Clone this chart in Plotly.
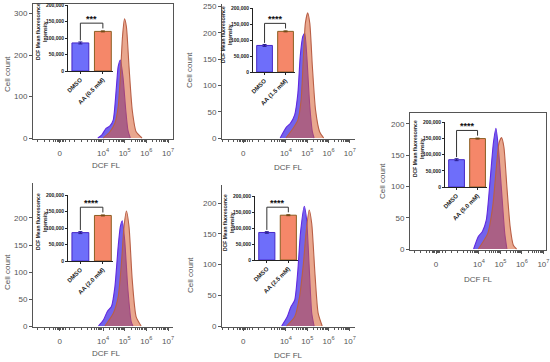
import math
import plotly.graph_objects as go

W, H = 550, 362

# ---------------- DATA ----------------
# Histogram x values are in display units of the DCF FL axis (2 = "0", 4 = 10^4, 5 = 10^5 ...)
p1_dmso_x = [3.76, 3.94, 4.14, 4.32, 4.47, 4.62, 4.70, 4.80, 4.92, 5.05, 5.15, 5.26]
p1_dmso_y = [0, 7, 23, 29, 43, 124, 172, 188, 148, 67, 19, 0]
p1_aa_x = [4.02, 4.32, 4.55, 4.70, 4.80, 4.90, 4.99, 5.08, 5.20, 5.35, 5.53, 5.80]
p1_aa_y = [0, 15, 36, 75, 148, 244, 287, 268, 172, 67, 15, 0]

p2_dmso_x = [3.73, 4.03, 4.21, 4.41, 4.56, 4.67, 4.79, 4.88, 4.98, 5.12, 5.24, 5.32]
p2_dmso_y = [0, 21, 28, 44, 85, 155, 193, 199, 155, 60, 12, 0]
p2_aa_x = [4.00, 4.33, 4.56, 4.71, 4.82, 4.91, 5.02, 5.12, 5.24, 5.39, 5.58, 5.77]
p2_aa_y = [0, 18, 34, 72, 155, 218, 238, 218, 136, 53, 12, 0]

p3_dmso_x = [3.75, 3.97, 4.16, 4.34, 4.52, 4.67, 4.79, 4.90, 5.05, 5.20, 5.30]
p3_dmso_y = [0, 20, 28, 46, 110, 169, 193, 163, 94, 25, 0]
p3_aa_x = [3.97, 4.41, 4.64, 4.81, 4.93, 5.05, 5.16, 5.30, 5.45, 5.60, 5.75]
p3_aa_y = [0, 25, 68, 131, 169, 178, 163, 99, 36, 6, 0]

p4_dmso_x = [3.79, 4.02, 4.20, 4.39, 4.55, 4.70, 4.80, 4.89, 5.00, 5.15, 5.30, 5.38]
p4_dmso_y = [0, 11, 27, 36, 73, 147, 184, 195, 159, 67, 8, 0]
p4_aa_x = [4.09, 4.47, 4.70, 4.85, 4.97, 5.08, 5.20, 5.35, 5.53, 5.76]
p4_aa_y = [0, 23, 54, 116, 184, 213, 184, 85, 17, 0]

p5_dmso_x = [3.80, 4.06, 4.23, 4.41, 4.56, 4.68, 4.86, 4.97, 5.09, 5.21, 5.32]
p5_dmso_y = [0, 15, 31, 42, 91, 151, 195, 173, 97, 21, 0]
p5_aa_x = [4.03, 4.41, 4.64, 4.82, 4.94, 5.09, 5.21, 5.36, 5.51, 5.70]
p5_aa_y = [0, 15, 48, 102, 151, 189, 167, 86, 21, 0]

# Inset bar data (DCF mean fluorescence intensity)
bar_categories = ["DMSO", "AA"]
aa_labels = ["AA (0.5 mM)", "AA (1.5 mM)", "AA (5.0 mM)", "AA (2.0 mM)", "AA (2.5 mM)"]
dmso_mfi = [85000, 83000, 84000, 86000, 86000]
aa_mfi = [120000, 127000, 149000, 138000, 140000]
dmso_err = [3000, 3000, 3000, 3000, 2500]
aa_err = [1500, 1500, 1500, 1500, 1500]
stars = ["***", "****", "****", "****", "****"]

# Cell count axis ticks per panel
y_ticks = [[0, 100, 200, 300], [0, 50, 100, 150, 200, 250], [0, 50, 100, 150, 200],
           [0, 50, 100, 150, 200], [0, 50, 100, 150, 200]]
x_tickvals = [2, 4, 5, 6, 7]
x_ticktext = ["0", "10<sup>4</sup>", "10<sup>5</sup>", "10<sup>6</sup>", "10<sup>7</sup>"]
mfi_ticks = [0, 50000, 100000, 150000, 200000]
mfi_ticktext = ["0", "50,000", "100,000", "150,000", "200,000"]

# ---------------- LAYOUT GEOMETRY (pixels) ----------------
def px_x(a, b):
    return [a / W, b / W]

def px_y(top, bottom):
    return [1 - bottom / H, 1 - top / H]

panels = [
    dict(xd=(33, 173), yd=(4, 139), xr=[0.77, 7.23], yr=[-2.4, 322.9], box=True,
         yt=(7, 74), xt=(106, 165)),
    dict(xd=(222, 355), yd=(4, 139), xr=[1.0, 7.24], yr=[-1.9, 254.8], box=False,
         yt=(189, 70), xt=(288, 167)),
    dict(xd=(410, 546), yd=(113, 250), xr=[0.79, 7.12], yr=[-1.6, 217.3], box=True,
         yt=(382, 181), xt=(479, 279)),
    dict(xd=(33, 173), yd=(183, 327), xr=[0.77, 7.23], yr=[-1.85, 264.8], box=False,
         yt=(7, 272), xt=(106, 353)),
    dict(xd=(222, 355), yd=(185, 327), xr=[1.0, 7.24], yr=[-1.6, 229.6], box=False,
         yt=(190, 275), xt=(288, 355)),
]
insets = [
    dict(xd=(68, 113), yd=(5, 71)),
    dict(xd=(253, 295), yd=(8, 72)),
    dict(xd=(445, 487), yd=(122, 187)),
    dict(xd=(68, 113), yd=(195, 261)),
    dict(xd=(255, 298), yd=(196, 260)),
]

hist = [
    (p1_dmso_x, p1_dmso_y, p1_aa_x, p1_aa_y),
    (p2_dmso_x, p2_dmso_y, p2_aa_x, p2_aa_y),
    (p3_dmso_x, p3_dmso_y, p3_aa_x, p3_aa_y),
    (p4_dmso_x, p4_dmso_y, p4_aa_x, p4_aa_y),
    (p5_dmso_x, p5_dmso_y, p5_aa_x, p5_aa_y),
]

# minor tick positions on the DCF FL axis
minor_vals = [1.0, 1.3, 1.55, 1.72, 1.82, 1.88, 1.94, 2.06, 2.12, 2.18, 2.28, 2.45, 2.7,
              3.0, 3.3, 3.48, 3.6, 3.7, 3.78, 3.85, 3.9, 3.95]
for d in (4, 5, 6):
    for k in range(2, 10):
        minor_vals.append(d + math.log10(k))

FONT = "Liberation Sans, Arial, sans-serif"
AX = "#555555"
DMSO_LINE = "rgb(95,40,225)"
DMSO_FILL = "rgba(80,60,230,0.80)"
AA_LINE = "rgb(185,95,70)"
AA_FILL = "rgba(215,95,50,0.55)"

fig = go.Figure()
layout = dict(
    width=W, height=H, margin=dict(l=0, r=0, t=0, b=0, pad=0), autosize=False,
    paper_bgcolor="white", plot_bgcolor="rgba(0,0,0,0)",
    showlegend=False, font=dict(family=FONT, color=AX),
)
shapes = []
annotations = []

for i, p in enumerate(panels):
    n = i + 1
    xa = "xaxis" if n == 1 else f"xaxis{n}"
    ya = "yaxis" if n == 1 else f"yaxis{n}"
    xr_ = "x" if n == 1 else f"x{n}"
    yr_ = "y" if n == 1 else f"y{n}"
    dx, dy, ax_, ay_ = hist[i]
    fig.add_trace(go.Scatter(x=dx, y=dy, mode="lines", fill="tozeroy",
                             line=dict(color=DMSO_LINE, width=1.1, shape="spline", smoothing=0.6),
                             fillcolor=DMSO_FILL, xaxis=xr_, yaxis=yr_, hoverinfo="skip"))
    fig.add_trace(go.Scatter(x=ax_, y=ay_, mode="lines", fill="tozeroy",
                             line=dict(color=AA_LINE, width=1.1, shape="spline", smoothing=0.6),
                             fillcolor=AA_FILL, xaxis=xr_, yaxis=yr_, hoverinfo="skip"))
    layout[xa] = dict(domain=px_x(*p["xd"]), range=p["xr"], anchor=yr_, automargin=False,
                      showline=True, linecolor=AX, linewidth=1, mirror=p["box"],
                      showgrid=False, zeroline=False, ticks="outside", ticklen=3,
                      tickcolor=AX, tickvals=x_tickvals, ticktext=x_ticktext,
                      tickfont=dict(size=8, color=AX), ticklabelstandoff=3,
                      minor=dict(tickvals=minor_vals, ticks="outside", ticklen=2,
                                 tickcolor=AX, showgrid=False))
    layout[ya] = dict(domain=px_y(*p["yd"]), range=p["yr"], anchor=xr_, automargin=False,
                      showline=True, linecolor=AX, linewidth=1, mirror=p["box"],
                      showgrid=False, zeroline=False, ticks="outside", ticklen=3,
                      tickcolor=AX, tickvals=y_ticks[i],
                      tickfont=dict(size=8, color=AX))
    annotations.append(dict(text="Cell count", x=p["yt"][0] / W, y=1 - p["yt"][1] / H,
                            xref="paper", yref="paper", showarrow=False, textangle=-90,
                            font=dict(size=8, color=AX), xanchor="center", yanchor="middle"))
    annotations.append(dict(text="DCF FL", x=p["xt"][0] / W, y=1 - p["xt"][1] / H,
                            xref="paper", yref="paper", showarrow=False,
                            font=dict(size=8, color=AX), xanchor="center", yanchor="middle"))

for i, q in enumerate(insets):
    n = 6 + i
    xa, ya = f"xaxis{n}", f"yaxis{n}"
    xr_, yr_ = f"x{n}", f"y{n}"
    fig.add_trace(go.Bar(x=[0], y=[dmso_mfi[i]], width=0.75,
                         marker=dict(color="rgb(110,110,250)", line=dict(color="rgb(70,40,200)", width=1)),
                         error_y=dict(type="data", array=[dmso_err[i]], color="rgb(40,30,140)",
                                      thickness=1, width=2),
                         xaxis=xr_, yaxis=yr_, hoverinfo="skip"))
    fig.add_trace(go.Bar(x=[1], y=[aa_mfi[i]], width=0.75,
                         marker=dict(color="rgb(245,135,105)", line=dict(color="rgb(140,95,35)", width=1)),
                         error_y=dict(type="data", array=[aa_err[i]], color="rgb(110,70,20)",
                                      thickness=1, width=2),
                         xaxis=xr_, yaxis=yr_, hoverinfo="skip"))
    layout[xa] = dict(domain=px_x(*q["xd"]), range=[-0.55, 1.45], anchor=yr_, automargin=False,
                      showline=True, linecolor="#222", linewidth=1, showgrid=False,
                      zeroline=False, ticks="outside", ticklen=2, tickcolor="#222",
                      tickvals=[0, 1], ticktext=[bar_categories[0], aa_labels[i]],
                      tickangle=-45, tickfont=dict(size=6, color="#222", weight="bold"))
    layout[ya] = dict(domain=px_y(*q["yd"]), range=[0, 200000], anchor=xr_, automargin=False,
                      showline=True, linecolor="#222", linewidth=1, showgrid=False,
                      zeroline=False, ticks="outside", ticklen=2, tickcolor="#222",
                      tickvals=mfi_ticks, ticktext=mfi_ticktext,
                      tickfont=dict(size=5, color="#222", weight="bold"))
    annotations.append(dict(text="<b>DCF Mean fluorescence<br>Intensity</b>",
                            x=(q["xd"][0] - 27) / W, y=1 - (q["yd"][0] + 27) / H,
                            xref="paper", yref="paper", showarrow=False, textangle=-90,
                            font=dict(size=5, color="#222"), xanchor="center", yanchor="middle"))
    top = aa_mfi[i] + 25000
    shapes.append(dict(type="path", xref=xr_, yref=yr_,
                       path=f"M 0 {dmso_mfi[i] + 8000} L 0 {top} L 1 {top} L 1 {aa_mfi[i] + 9000}",
                       line=dict(color="#333", width=1)))
    annotations.append(dict(text=f"<b>{stars[i]}</b>", x=0.5, y=top, xref=xr_, yref=yr_,
                            showarrow=False, yanchor="bottom", yshift=-3,
                            font=dict(size=9, color="#111")))

layout["shapes"] = shapes
layout["annotations"] = annotations
fig.update_layout(**layout)
fig.write_html("out.html", config={"displayModeBar": False},
               post_script="document.body.style.margin='0';document.body.style.padding='0';")
